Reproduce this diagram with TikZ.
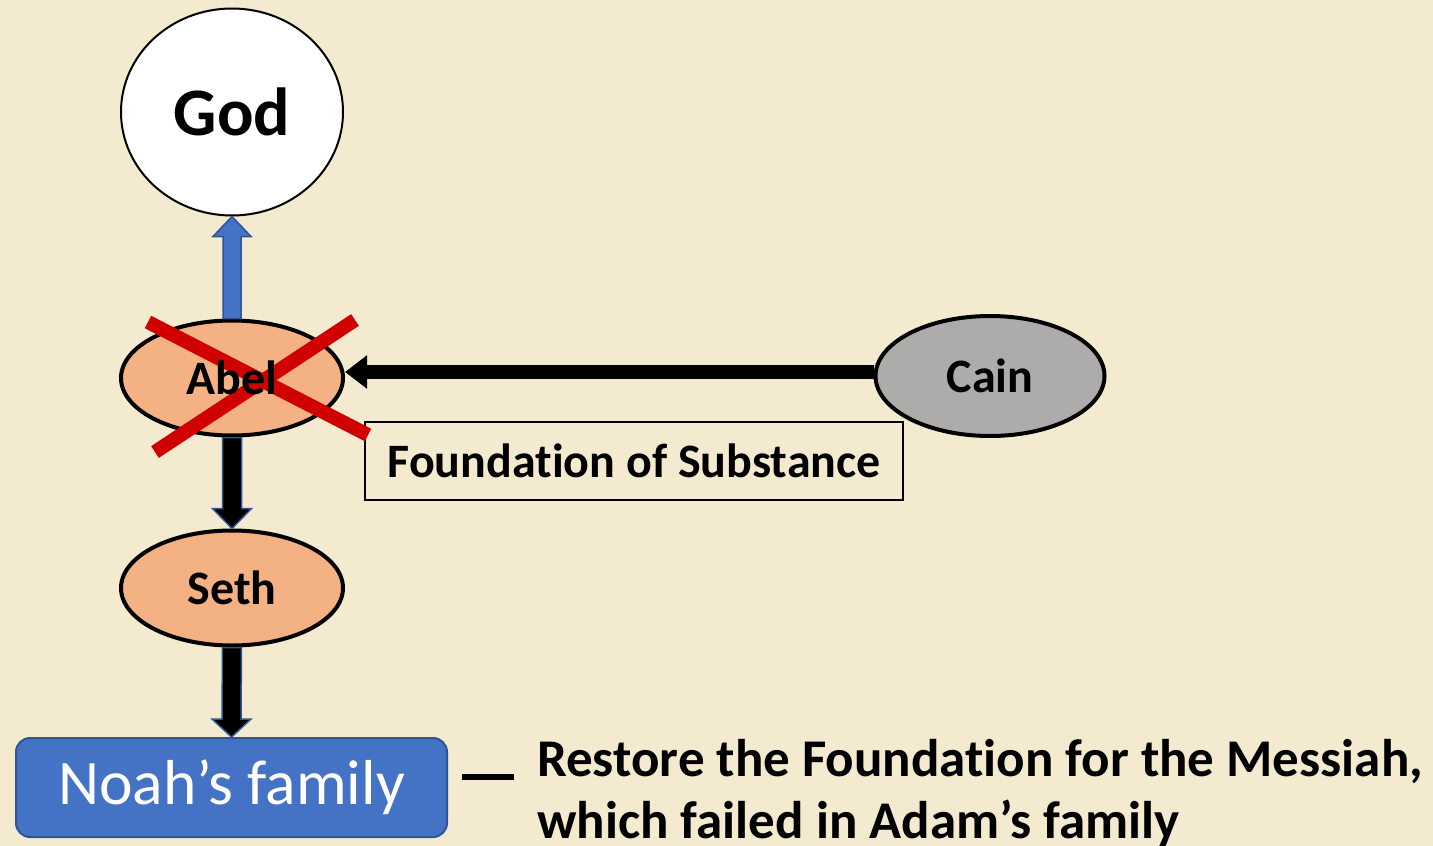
\documentclass[tikz,border=0pt]{standalone}
\usepackage{fontspec}
\setmainfont{Carlito}[Ligatures=NoCommon]
\usetikzlibrary{shapes.geometric,arrows.meta,calc}
\definecolor{bg}{RGB}{244,234,208}
\definecolor{abelfill}{RGB}{244,177,131}
\definecolor{cainfill}{RGB}{174,171,171}
\definecolor{blockblue}{RGB}{68,114,196}
\definecolor{edgeblue}{RGB}{47,85,151}
\definecolor{xred}{RGB}{208,0,0}
\begin{document}
\begin{tikzpicture}[x=1pt,y=-1pt,
  person/.style={ellipse, draw=black, line width=4pt, minimum width=222pt, minimum height=115pt,
    inner sep=0pt, font=\fontsize{48}{52}\selectfont\bfseries},
  blockup/.style={draw=edgeblue, fill=blockblue, line width=1.5pt, line join=miter},
  blockdown/.style={draw=edgeblue, fill=black, line width=1.5pt, line join=miter},
  cross/.style={draw=xred, line width=14pt},
  bigtext/.style={font=\fontsize{53}{62}\selectfont\bfseries, align=left, inner sep=0pt}]
\fill[bg] (0,0) rectangle (1433,846);
\useasboundingbox (0,0) rectangle (1433,846);

\node[ellipse, draw=black, line width=2pt, fill=white, minimum width=222pt, minimum height=207pt,
  font=\fontsize{68}{72}\selectfont\bfseries] (god) at (232,112) {God};
\node[person, fill=abelfill] (abel) at (232,378) {};
\node[person, fill=cainfill, minimum width=229pt, minimum height=120pt] (cain) at (990,376) {Cain};
\node[person, fill=abelfill] (seth) at (232,588) {Seth};
\node[draw=black, line width=2.5pt, minimum width=538pt, minimum height=78pt, inner sep=0pt,
  font=\fontsize{48}{52}\selectfont\bfseries] (fos) at (634,461) {Foundation of Substance};
\node[rounded corners=14pt, fill=blockblue, draw=edgeblue, line width=2pt, minimum width=431pt,
  minimum height=99pt, text=white, font=\fontsize{63.5}{70}\selectfont] (noah) at (231.5,787.5) {Noah’s family};

% up arrow Abel -> God
\draw[blockup] ($(abel.north)+(-9,0)$) -- ($(god.south)+(-9,20)$) -- ($(god.south)+(-19,20)$)
  -- (god.south) -- ($(god.south)+(19,20)$) -- ($(god.south)+(9,20)$) -- ($(abel.north)+(9,0)$) -- cycle;
% down arrows
\draw[blockdown] ($(abel.south)+(-9.5,0)$) -- ($(seth.north)+(-9.5,-20)$) -- ($(seth.north)+(-19.5,-20)$)
  -- (seth.north) -- ($(seth.north)+(19.5,-20)$) -- ($(seth.north)+(9.5,-20)$) -- ($(abel.south)+(9.5,0)$) -- cycle;
\draw[blockdown] ($(seth.south)+(-9.5,0)$) -- ($(noah.north)+(-9.5,-18)$) -- ($(noah.north)+(-19.5,-18)$)
  -- (noah.north) -- ($(noah.north)+(19.5,-18)$) -- ($(noah.north)+(9.5,-18)$) -- ($(seth.south)+(9.5,0)$) -- cycle;

% Cain -> Abel
\draw[line width=14pt, -{Triangle[length=22pt,width=32pt]}] ($(cain.west)+(0,-4)$) -- ($(cain.west -| abel.east)+(0,-4)$);

% red cross over Abel
\draw[cross] ($(abel)+(-84,-56)$) -- ($(abel)+(136,57)$);
\draw[cross] ($(abel)+(123,-58)$) -- ($(abel)+(-77,74)$);
\node[font=\fontsize{48}{52}\selectfont\bfseries, inner sep=0pt] (abeltext) at (abel) {Abel};

% dash and statement
\coordinate (d1) at (462,777);
\coordinate (d2) at (514,777);
\draw[line width=6pt] (d1) -- (d2);
\node[bigtext, anchor=base west] (msg) at (537,838) {Restore the Foundation for the Messiah,\\which failed in Adam’s family};
\end{tikzpicture}
\end{document}
